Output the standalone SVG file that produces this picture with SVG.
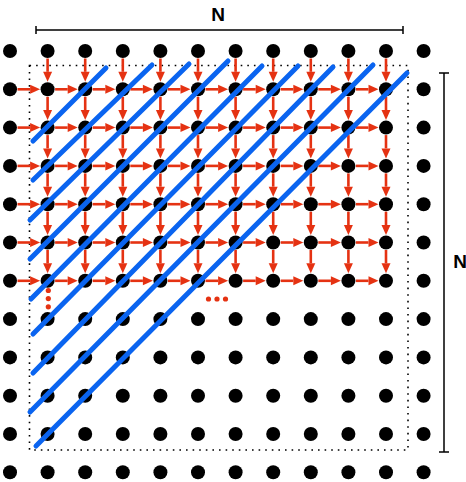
<svg xmlns="http://www.w3.org/2000/svg" xmlns:xlink="http://www.w3.org/1999/xlink" width="466" height="482" viewBox="0 0 466 482">
<style>
.d{fill:#000}
.ar{stroke:#e53212;stroke-width:2.6;fill:none}
.el{fill:#e53212}
.bl{stroke:#0a64f0;stroke-width:5;stroke-linecap:round;fill:none}
.dim{stroke:#000;stroke-width:1.5;fill:none}
.lab{font-family:"Liberation Sans",Arial,sans-serif;font-weight:bold;font-size:19px;fill:#000;text-anchor:middle}
</style>
<defs>
<marker id="hd" markerUnits="userSpaceOnUse" markerWidth="10" markerHeight="9" refX="0" refY="4.5" orient="auto" overflow="visible">
<path d="M0,0 L10,4.5 L0,9 z" fill="#e53212"/>
</marker>
<line id="ah" class="ar" x1="0" y1="0" x2="12.6" y2="0" marker-end="url(#hd)"/>
<line id="av" class="ar" x1="0" y1="0" x2="0" y2="13.3" marker-end="url(#hd)"/>
</defs>
<rect x="29.5" y="65.5" width="378.5" height="384.5" fill="none" stroke="#000" stroke-width="1.6" stroke-dasharray="1.6 5"/>
<g id="nodes">
<g id="n0_0"><circle class="d" cx="10" cy="51" r="7"/></g><g id="n1_0"><circle class="d" cx="47.6" cy="51" r="7"/></g><g id="n2_0"><circle class="d" cx="85.2" cy="51" r="7"/></g><g id="n3_0"><circle class="d" cx="122.8" cy="51" r="7"/></g><g id="n4_0"><circle class="d" cx="160.4" cy="51" r="7"/></g><g id="n5_0"><circle class="d" cx="198" cy="51" r="7"/></g><g id="n6_0"><circle class="d" cx="235.6" cy="51" r="7"/></g><g id="n7_0"><circle class="d" cx="273.2" cy="51" r="7"/></g><g id="n8_0"><circle class="d" cx="310.8" cy="51" r="7"/></g><g id="n9_0"><circle class="d" cx="348.4" cy="51" r="7"/></g><g id="n10_0"><circle class="d" cx="386" cy="51" r="7"/></g><g id="n11_0"><circle class="d" cx="423.6" cy="51" r="7"/></g>
<g id="n0_1"><circle class="d" cx="10" cy="89.3" r="7"/></g><g id="n1_1"><circle class="d" cx="47.6" cy="89.3" r="7"/></g><g id="n2_1"><circle class="d" cx="85.2" cy="89.3" r="7"/></g><g id="n3_1"><circle class="d" cx="122.8" cy="89.3" r="7"/></g><g id="n4_1"><circle class="d" cx="160.4" cy="89.3" r="7"/></g><g id="n5_1"><circle class="d" cx="198" cy="89.3" r="7"/></g><g id="n6_1"><circle class="d" cx="235.6" cy="89.3" r="7"/></g><g id="n7_1"><circle class="d" cx="273.2" cy="89.3" r="7"/></g><g id="n8_1"><circle class="d" cx="310.8" cy="89.3" r="7"/></g><g id="n9_1"><circle class="d" cx="348.4" cy="89.3" r="7"/></g><g id="n10_1"><circle class="d" cx="386" cy="89.3" r="7"/></g><g id="n11_1"><circle class="d" cx="423.6" cy="89.3" r="7"/></g>
<g id="n0_2"><circle class="d" cx="10" cy="127.6" r="7"/></g><g id="n1_2"><circle class="d" cx="47.6" cy="127.6" r="7"/></g><g id="n2_2"><circle class="d" cx="85.2" cy="127.6" r="7"/></g><g id="n3_2"><circle class="d" cx="122.8" cy="127.6" r="7"/></g><g id="n4_2"><circle class="d" cx="160.4" cy="127.6" r="7"/></g><g id="n5_2"><circle class="d" cx="198" cy="127.6" r="7"/></g><g id="n6_2"><circle class="d" cx="235.6" cy="127.6" r="7"/></g><g id="n7_2"><circle class="d" cx="273.2" cy="127.6" r="7"/></g><g id="n8_2"><circle class="d" cx="310.8" cy="127.6" r="7"/></g><g id="n9_2"><circle class="d" cx="348.4" cy="127.6" r="7"/></g><g id="n10_2"><circle class="d" cx="386" cy="127.6" r="7"/></g><g id="n11_2"><circle class="d" cx="423.6" cy="127.6" r="7"/></g>
<g id="n0_3"><circle class="d" cx="10" cy="165.9" r="7"/></g><g id="n1_3"><circle class="d" cx="47.6" cy="165.9" r="7"/></g><g id="n2_3"><circle class="d" cx="85.2" cy="165.9" r="7"/></g><g id="n3_3"><circle class="d" cx="122.8" cy="165.9" r="7"/></g><g id="n4_3"><circle class="d" cx="160.4" cy="165.9" r="7"/></g><g id="n5_3"><circle class="d" cx="198" cy="165.9" r="7"/></g><g id="n6_3"><circle class="d" cx="235.6" cy="165.9" r="7"/></g><g id="n7_3"><circle class="d" cx="273.2" cy="165.9" r="7"/></g><g id="n8_3"><circle class="d" cx="310.8" cy="165.9" r="7"/></g><g id="n9_3"><circle class="d" cx="348.4" cy="165.9" r="7"/></g><g id="n10_3"><circle class="d" cx="386" cy="165.9" r="7"/></g><g id="n11_3"><circle class="d" cx="423.6" cy="165.9" r="7"/></g>
<g id="n0_4"><circle class="d" cx="10" cy="204.2" r="7"/></g><g id="n1_4"><circle class="d" cx="47.6" cy="204.2" r="7"/></g><g id="n2_4"><circle class="d" cx="85.2" cy="204.2" r="7"/></g><g id="n3_4"><circle class="d" cx="122.8" cy="204.2" r="7"/></g><g id="n4_4"><circle class="d" cx="160.4" cy="204.2" r="7"/></g><g id="n5_4"><circle class="d" cx="198" cy="204.2" r="7"/></g><g id="n6_4"><circle class="d" cx="235.6" cy="204.2" r="7"/></g><g id="n7_4"><circle class="d" cx="273.2" cy="204.2" r="7"/></g><g id="n8_4"><circle class="d" cx="310.8" cy="204.2" r="7"/></g><g id="n9_4"><circle class="d" cx="348.4" cy="204.2" r="7"/></g><g id="n10_4"><circle class="d" cx="386" cy="204.2" r="7"/></g><g id="n11_4"><circle class="d" cx="423.6" cy="204.2" r="7"/></g>
<g id="n0_5"><circle class="d" cx="10" cy="242.5" r="7"/></g><g id="n1_5"><circle class="d" cx="47.6" cy="242.5" r="7"/></g><g id="n2_5"><circle class="d" cx="85.2" cy="242.5" r="7"/></g><g id="n3_5"><circle class="d" cx="122.8" cy="242.5" r="7"/></g><g id="n4_5"><circle class="d" cx="160.4" cy="242.5" r="7"/></g><g id="n5_5"><circle class="d" cx="198" cy="242.5" r="7"/></g><g id="n6_5"><circle class="d" cx="235.6" cy="242.5" r="7"/></g><g id="n7_5"><circle class="d" cx="273.2" cy="242.5" r="7"/></g><g id="n8_5"><circle class="d" cx="310.8" cy="242.5" r="7"/></g><g id="n9_5"><circle class="d" cx="348.4" cy="242.5" r="7"/></g><g id="n10_5"><circle class="d" cx="386" cy="242.5" r="7"/></g><g id="n11_5"><circle class="d" cx="423.6" cy="242.5" r="7"/></g>
<g id="n0_6"><circle class="d" cx="10" cy="280.8" r="7"/></g><g id="n1_6"><circle class="d" cx="47.6" cy="280.8" r="7"/></g><g id="n2_6"><circle class="d" cx="85.2" cy="280.8" r="7"/></g><g id="n3_6"><circle class="d" cx="122.8" cy="280.8" r="7"/></g><g id="n4_6"><circle class="d" cx="160.4" cy="280.8" r="7"/></g><g id="n5_6"><circle class="d" cx="198" cy="280.8" r="7"/></g><g id="n6_6"><circle class="d" cx="235.6" cy="280.8" r="7"/></g><g id="n7_6"><circle class="d" cx="273.2" cy="280.8" r="7"/></g><g id="n8_6"><circle class="d" cx="310.8" cy="280.8" r="7"/></g><g id="n9_6"><circle class="d" cx="348.4" cy="280.8" r="7"/></g><g id="n10_6"><circle class="d" cx="386" cy="280.8" r="7"/></g><g id="n11_6"><circle class="d" cx="423.6" cy="280.8" r="7"/></g>
<g id="n0_7"><circle class="d" cx="10" cy="319.1" r="7"/></g><g id="n1_7"><circle class="d" cx="47.6" cy="319.1" r="7"/></g><g id="n2_7"><circle class="d" cx="85.2" cy="319.1" r="7"/></g><g id="n3_7"><circle class="d" cx="122.8" cy="319.1" r="7"/></g><g id="n4_7"><circle class="d" cx="160.4" cy="319.1" r="7"/></g><g id="n5_7"><circle class="d" cx="198" cy="319.1" r="7"/></g><g id="n6_7"><circle class="d" cx="235.6" cy="319.1" r="7"/></g><g id="n7_7"><circle class="d" cx="273.2" cy="319.1" r="7"/></g><g id="n8_7"><circle class="d" cx="310.8" cy="319.1" r="7"/></g><g id="n9_7"><circle class="d" cx="348.4" cy="319.1" r="7"/></g><g id="n10_7"><circle class="d" cx="386" cy="319.1" r="7"/></g><g id="n11_7"><circle class="d" cx="423.6" cy="319.1" r="7"/></g>
<g id="n0_8"><circle class="d" cx="10" cy="357.4" r="7"/></g><g id="n1_8"><circle class="d" cx="47.6" cy="357.4" r="7"/></g><g id="n2_8"><circle class="d" cx="85.2" cy="357.4" r="7"/></g><g id="n3_8"><circle class="d" cx="122.8" cy="357.4" r="7"/></g><g id="n4_8"><circle class="d" cx="160.4" cy="357.4" r="7"/></g><g id="n5_8"><circle class="d" cx="198" cy="357.4" r="7"/></g><g id="n6_8"><circle class="d" cx="235.6" cy="357.4" r="7"/></g><g id="n7_8"><circle class="d" cx="273.2" cy="357.4" r="7"/></g><g id="n8_8"><circle class="d" cx="310.8" cy="357.4" r="7"/></g><g id="n9_8"><circle class="d" cx="348.4" cy="357.4" r="7"/></g><g id="n10_8"><circle class="d" cx="386" cy="357.4" r="7"/></g><g id="n11_8"><circle class="d" cx="423.6" cy="357.4" r="7"/></g>
<g id="n0_9"><circle class="d" cx="10" cy="395.7" r="7"/></g><g id="n1_9"><circle class="d" cx="47.6" cy="395.7" r="7"/></g><g id="n2_9"><circle class="d" cx="85.2" cy="395.7" r="7"/></g><g id="n3_9"><circle class="d" cx="122.8" cy="395.7" r="7"/></g><g id="n4_9"><circle class="d" cx="160.4" cy="395.7" r="7"/></g><g id="n5_9"><circle class="d" cx="198" cy="395.7" r="7"/></g><g id="n6_9"><circle class="d" cx="235.6" cy="395.7" r="7"/></g><g id="n7_9"><circle class="d" cx="273.2" cy="395.7" r="7"/></g><g id="n8_9"><circle class="d" cx="310.8" cy="395.7" r="7"/></g><g id="n9_9"><circle class="d" cx="348.4" cy="395.7" r="7"/></g><g id="n10_9"><circle class="d" cx="386" cy="395.7" r="7"/></g><g id="n11_9"><circle class="d" cx="423.6" cy="395.7" r="7"/></g>
<g id="n0_10"><circle class="d" cx="10" cy="434" r="7"/></g><g id="n1_10"><circle class="d" cx="47.6" cy="434" r="7"/></g><g id="n2_10"><circle class="d" cx="85.2" cy="434" r="7"/></g><g id="n3_10"><circle class="d" cx="122.8" cy="434" r="7"/></g><g id="n4_10"><circle class="d" cx="160.4" cy="434" r="7"/></g><g id="n5_10"><circle class="d" cx="198" cy="434" r="7"/></g><g id="n6_10"><circle class="d" cx="235.6" cy="434" r="7"/></g><g id="n7_10"><circle class="d" cx="273.2" cy="434" r="7"/></g><g id="n8_10"><circle class="d" cx="310.8" cy="434" r="7"/></g><g id="n9_10"><circle class="d" cx="348.4" cy="434" r="7"/></g><g id="n10_10"><circle class="d" cx="386" cy="434" r="7"/></g><g id="n11_10"><circle class="d" cx="423.6" cy="434" r="7"/></g>
<g id="n0_11"><circle class="d" cx="10" cy="472.3" r="7"/></g><g id="n1_11"><circle class="d" cx="47.6" cy="472.3" r="7"/></g><g id="n2_11"><circle class="d" cx="85.2" cy="472.3" r="7"/></g><g id="n3_11"><circle class="d" cx="122.8" cy="472.3" r="7"/></g><g id="n4_11"><circle class="d" cx="160.4" cy="472.3" r="7"/></g><g id="n5_11"><circle class="d" cx="198" cy="472.3" r="7"/></g><g id="n6_11"><circle class="d" cx="235.6" cy="472.3" r="7"/></g><g id="n7_11"><circle class="d" cx="273.2" cy="472.3" r="7"/></g><g id="n8_11"><circle class="d" cx="310.8" cy="472.3" r="7"/></g><g id="n9_11"><circle class="d" cx="348.4" cy="472.3" r="7"/></g><g id="n10_11"><circle class="d" cx="386" cy="472.3" r="7"/></g><g id="n11_11"><circle class="d" cx="423.6" cy="472.3" r="7"/></g>
</g>
<g id="connectors">
<g id="h-arrows">
<use href="#ah" x="17.5" y="89.3"/><use href="#ah" x="55.1" y="89.3"/><use href="#ah" x="92.7" y="89.3"/><use href="#ah" x="130.3" y="89.3"/><use href="#ah" x="167.9" y="89.3"/><use href="#ah" x="205.5" y="89.3"/><use href="#ah" x="243.1" y="89.3"/><use href="#ah" x="280.7" y="89.3"/><use href="#ah" x="318.3" y="89.3"/><use href="#ah" x="355.9" y="89.3"/>
<use href="#ah" x="17.5" y="127.6"/><use href="#ah" x="55.1" y="127.6"/><use href="#ah" x="92.7" y="127.6"/><use href="#ah" x="130.3" y="127.6"/><use href="#ah" x="167.9" y="127.6"/><use href="#ah" x="205.5" y="127.6"/><use href="#ah" x="243.1" y="127.6"/><use href="#ah" x="280.7" y="127.6"/><use href="#ah" x="318.3" y="127.6"/><use href="#ah" x="355.9" y="127.6"/>
<use href="#ah" x="17.5" y="165.9"/><use href="#ah" x="55.1" y="165.9"/><use href="#ah" x="92.7" y="165.9"/><use href="#ah" x="130.3" y="165.9"/><use href="#ah" x="167.9" y="165.9"/><use href="#ah" x="205.5" y="165.9"/><use href="#ah" x="243.1" y="165.9"/><use href="#ah" x="280.7" y="165.9"/><use href="#ah" x="318.3" y="165.9"/><use href="#ah" x="355.9" y="165.9"/>
<use href="#ah" x="17.5" y="204.2"/><use href="#ah" x="55.1" y="204.2"/><use href="#ah" x="92.7" y="204.2"/><use href="#ah" x="130.3" y="204.2"/><use href="#ah" x="167.9" y="204.2"/><use href="#ah" x="205.5" y="204.2"/><use href="#ah" x="243.1" y="204.2"/><use href="#ah" x="280.7" y="204.2"/><use href="#ah" x="318.3" y="204.2"/><use href="#ah" x="355.9" y="204.2"/>
<use href="#ah" x="17.5" y="242.5"/><use href="#ah" x="55.1" y="242.5"/><use href="#ah" x="92.7" y="242.5"/><use href="#ah" x="130.3" y="242.5"/><use href="#ah" x="167.9" y="242.5"/><use href="#ah" x="205.5" y="242.5"/><use href="#ah" x="243.1" y="242.5"/><use href="#ah" x="280.7" y="242.5"/><use href="#ah" x="318.3" y="242.5"/><use href="#ah" x="355.9" y="242.5"/>
<use href="#ah" x="17.5" y="280.8"/><use href="#ah" x="55.1" y="280.8"/><use href="#ah" x="92.7" y="280.8"/><use href="#ah" x="130.3" y="280.8"/><use href="#ah" x="167.9" y="280.8"/><use href="#ah" x="205.5" y="280.8"/><use href="#ah" x="243.1" y="280.8"/><use href="#ah" x="280.7" y="280.8"/><use href="#ah" x="318.3" y="280.8"/><use href="#ah" x="355.9" y="280.8"/>
</g>
<g id="v-arrows">
<use href="#av" x="47.6" y="58.5"/><use href="#av" x="47.6" y="96.8"/><use href="#av" x="47.6" y="135.1"/><use href="#av" x="47.6" y="173.4"/><use href="#av" x="47.6" y="211.7"/><use href="#av" x="47.6" y="250"/>
<use href="#av" x="85.2" y="58.5"/><use href="#av" x="85.2" y="96.8"/><use href="#av" x="85.2" y="135.1"/><use href="#av" x="85.2" y="173.4"/><use href="#av" x="85.2" y="211.7"/><use href="#av" x="85.2" y="250"/>
<use href="#av" x="122.8" y="58.5"/><use href="#av" x="122.8" y="96.8"/><use href="#av" x="122.8" y="135.1"/><use href="#av" x="122.8" y="173.4"/><use href="#av" x="122.8" y="211.7"/><use href="#av" x="122.8" y="250"/>
<use href="#av" x="160.4" y="58.5"/><use href="#av" x="160.4" y="96.8"/><use href="#av" x="160.4" y="135.1"/><use href="#av" x="160.4" y="173.4"/><use href="#av" x="160.4" y="211.7"/><use href="#av" x="160.4" y="250"/>
<use href="#av" x="198" y="58.5"/><use href="#av" x="198" y="96.8"/><use href="#av" x="198" y="135.1"/><use href="#av" x="198" y="173.4"/><use href="#av" x="198" y="211.7"/><use href="#av" x="198" y="250"/>
<use href="#av" x="235.6" y="58.5"/><use href="#av" x="235.6" y="96.8"/><use href="#av" x="235.6" y="135.1"/><use href="#av" x="235.6" y="173.4"/><use href="#av" x="235.6" y="211.7"/><use href="#av" x="235.6" y="250"/>
<use href="#av" x="273.2" y="58.5"/><use href="#av" x="273.2" y="96.8"/><use href="#av" x="273.2" y="135.1"/><use href="#av" x="273.2" y="173.4"/><use href="#av" x="273.2" y="211.7"/><use href="#av" x="273.2" y="250"/>
<use href="#av" x="310.8" y="58.5"/><use href="#av" x="310.8" y="96.8"/><use href="#av" x="310.8" y="135.1"/><use href="#av" x="310.8" y="173.4"/><use href="#av" x="310.8" y="211.7"/><use href="#av" x="310.8" y="250"/>
<use href="#av" x="348.4" y="58.5"/><use href="#av" x="348.4" y="96.8"/><use href="#av" x="348.4" y="135.1"/><use href="#av" x="348.4" y="173.4"/><use href="#av" x="348.4" y="211.7"/><use href="#av" x="348.4" y="250"/>
<use href="#av" x="386" y="58.5"/><use href="#av" x="386" y="96.8"/><use href="#av" x="386" y="135.1"/><use href="#av" x="386" y="173.4"/><use href="#av" x="386" y="211.7"/><use href="#av" x="386" y="250"/>
</g>
</g>
<g id="ellipses">
<circle class="el" cx="48.3" cy="290.5" r="2.6"/><circle class="el" cx="48.3" cy="298.6" r="2.6"/><circle class="el" cx="48.3" cy="306.8" r="2.6"/>
<circle class="el" cx="208.5" cy="299" r="2.6"/><circle class="el" cx="217" cy="299" r="2.6"/><circle class="el" cx="225.5" cy="299" r="2.6"/>
</g>
<g id="diagonals">
<line class="bl" x1="33" y1="141" x2="106" y2="68"/>
<line class="bl" x1="33" y1="180" x2="152" y2="65"/>
<line class="bl" x1="30" y1="220" x2="189" y2="64"/>
<line class="bl" x1="30" y1="259" x2="228" y2="61"/>
<line class="bl" x1="31" y1="299" x2="262" y2="66"/>
<line class="bl" x1="33" y1="334" x2="298" y2="66"/>
<line class="bl" x1="33" y1="373" x2="333" y2="67"/>
<line class="bl" x1="30" y1="412" x2="373" y2="65"/>
<line class="bl" x1="36" y1="446" x2="407" y2="73"/>
</g>
<g id="dimensions">
<path class="dim" d="M36,30 H403 M36,26 V34 M403,26 V34"/>
<path class="dim" d="M444,73 V452 M439,73 H449 M439,452 H449"/>
<text class="lab" x="218" y="21">N</text>
<text class="lab" x="460" y="268">N</text>
</g>
</svg>
